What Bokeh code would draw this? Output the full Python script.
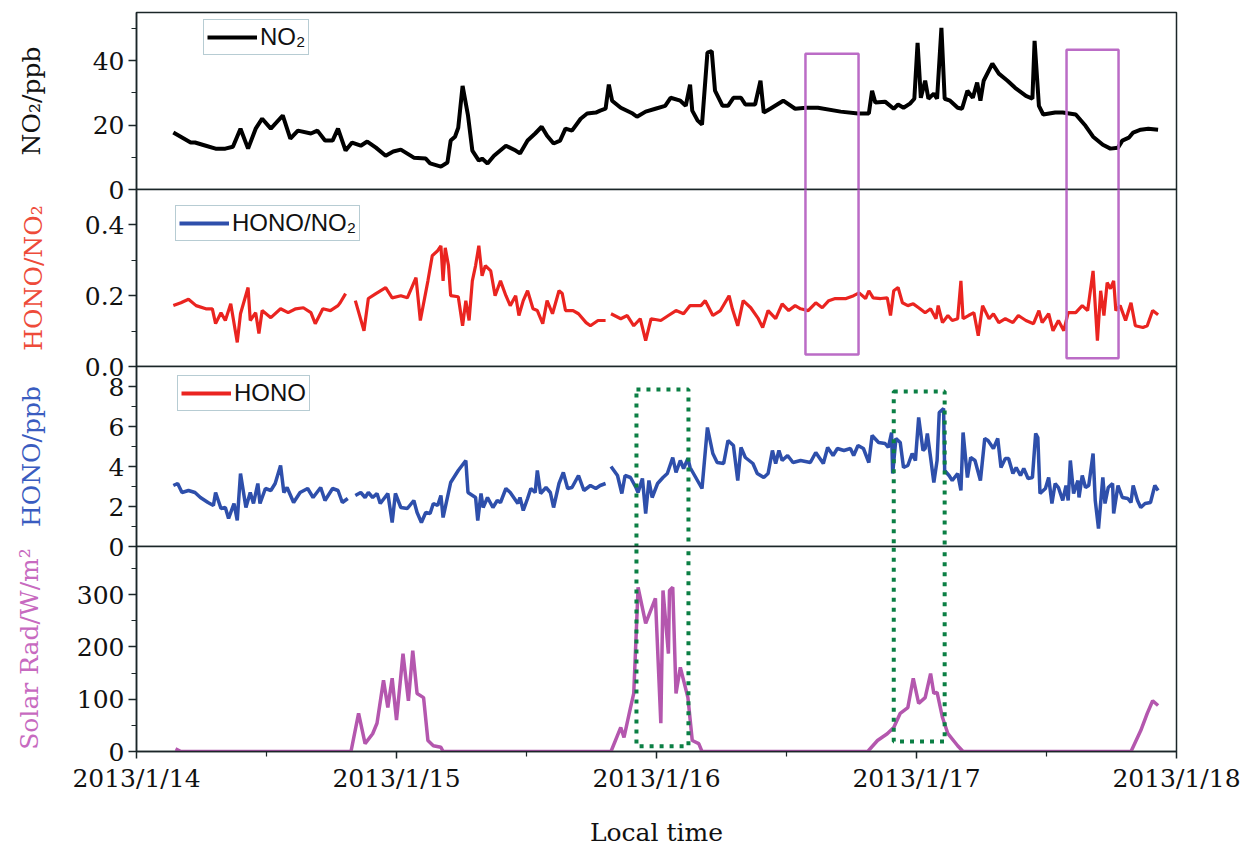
from bokeh.plotting import figure
from bokeh.layouts import column
from bokeh.models import (Range1d, FixedTicker, SingleIntervalTicker, NumeralTickFormatter,
                          Legend, LegendItem)
from bokeh.embed import file_html
from bokeh.resources import INLINE

NaN = float("nan")

# ---------------------------------------------------------------------------
# Time axis: hours since 2013/1/14 00:00 local time
# ---------------------------------------------------------------------------
day_ticks = [0, 24, 48, 72, 96]
day_labels = ["2013/1/14", "2013/1/15", "2013/1/16", "2013/1/17", "2013/1/18"]
half_day_ticks = [12, 36, 60, 84]

# NO2 (ppb)
no2_hours = [
    3.4, 5.0, 5.4, 6.4, 7.3, 8.2, 8.9, 9.6, 10.3, 11.0,
    11.6, 12.4, 13.5, 14.2, 14.9, 16.1, 16.7, 17.4, 18.1, 18.6,
    19.3, 19.9, 20.7, 21.3, 22.1, 23.0, 23.7, 24.4, 25.6, 26.7,
    27.1, 28.1, 28.7, 29.0, 29.4, 29.7, 30.1, 30.6, 31.0, 31.6,
    31.9, 32.4, 33.0, 34.1, 35.0, 35.4, 36.1, 36.8, 37.4, 37.9,
    38.5, 39.1, 39.6, 40.2, 41.0, 41.6, 42.4, 42.8, 43.3, 43.6,
    43.9, 44.7, 45.8, 46.2, 47.0, 47.9, 48.8, 49.3, 50.2, 50.7,
    51.1, 51.3, 51.8, 52.2, 52.7, 53.1, 53.4, 54.1, 54.6, 55.1,
    55.8, 56.2, 57.1, 57.6, 57.9, 58.5, 59.7, 60.8, 61.8, 62.9,
    65.0, 66.6, 67.6, 67.9, 68.2, 69.1, 69.9, 70.3, 70.8, 71.4,
    71.8, 72.1, 72.4, 72.8, 73.1, 73.6, 73.9, 74.3, 74.6, 75.1,
    75.8, 76.2, 76.7, 77.2, 77.6, 77.9, 78.2, 79.0, 79.6, 80.4,
    81.1, 82.1, 82.7, 82.9, 83.3, 83.7, 84.8, 85.5, 86.7, 87.6,
    88.3, 89.2, 89.9, 90.6, 91.0, 91.6, 92.0, 92.7, 93.4, 94.3,
]
no2_ppb = [
    17.7, 14.6, 14.6, 13.6, 12.7, 12.7, 13.3, 18.9, 12.7, 18.9,
    22.0, 18.9, 23.0, 15.8, 18.3, 17.4, 18.3, 15.2, 15.2, 18.9,
    12.1, 14.6, 13.6, 14.9, 13.0, 10.5, 11.8, 12.4, 9.9, 9.6,
    8.1, 7.1, 8.4, 15.2, 16.4, 19.2, 32.2, 23.0, 12.1, 9.0,
    9.6, 8.1, 10.5, 13.6, 12.1, 11.2, 15.2, 17.4, 19.5, 16.7,
    14.3, 15.2, 18.9, 18.3, 22.0, 23.6, 23.9, 24.5, 25.1, 32.6,
    27.6, 25.4, 23.6, 22.6, 24.2, 25.1, 26.0, 28.5, 27.6, 26.0,
    32.6, 24.5, 21.4, 20.2, 42.5, 43.0, 30.7, 26.0, 26.0, 28.5,
    28.5, 26.4, 26.4, 33.8, 23.9, 25.1, 27.6, 25.1, 25.4, 25.4,
    24.2, 23.6, 23.6, 30.7, 27.0, 27.3, 25.1, 26.4, 25.4, 26.7,
    28.2, 45.6, 28.5, 33.8, 28.2, 29.8, 28.2, 50.2, 28.2, 27.6,
    25.4, 25.1, 30.7, 28.5, 33.2, 27.6, 33.8, 39.1, 36.0, 33.8,
    31.6, 29.1, 28.2, 46.2, 26.0, 23.3, 23.9, 23.9, 23.3, 19.8,
    16.4, 13.9, 12.7, 13.0, 15.2, 16.1, 17.7, 18.6, 18.9, 18.6,
]

# HONO/NO2 ratio (NaN marks missing data)
ratio_hours = [
    3.4, 4.1, 4.8, 5.5, 6.4, 7.0, 7.3, 7.8, 8.2, 8.7,
    9.3, 9.6, 10.3, 10.5, 11.0, 11.3, 11.6, 12.4, 13.3, 14.0,
    14.7, 15.4, 16.1, 16.5, 17.2, 17.9, 18.6, 18.8, 19.3, 19.7,
    20.2, 21.0, 21.4, 22.1, 23.0, 23.6, 24.4, 25.0, 25.8, 26.2,
    26.9, 27.3, 27.8, 28.1, 28.3, 28.5, 28.8, 29.0, 29.7, 30.1,
    30.4, 30.7, 31.0, 31.3, 31.6, 31.9, 32.2, 32.7, 33.1, 33.6,
    34.1, 34.5, 35.0, 35.3, 35.7, 36.1, 36.6, 37.0, 37.5, 37.9,
    38.4, 39.0, 39.3, 39.6, 40.3, 40.8, 41.5, 41.9, 42.6, 43.3,
    43.5, 43.8, 44.7, 45.3, 45.9, 46.5, 47.0, 47.5, 48.4, 49.1,
    49.8, 50.5, 51.1, 52.1, 52.5, 53.2, 53.9, 54.7, 55.0, 55.5,
    56.0, 56.7, 57.4, 57.8, 58.3, 59.0, 59.6, 60.2, 60.8, 61.3,
    62.0, 62.7, 63.3, 63.9, 64.5, 65.5, 66.2, 66.7, 67.3, 67.6,
    68.0, 68.7, 69.3, 69.6, 69.9, 70.3, 70.7, 71.2, 71.7, 72.2,
    72.8, 73.3, 73.8, 74.0, 74.4, 74.9, 75.3, 75.8, 76.1, 76.3,
    76.8, 77.3, 77.7, 78.1, 78.7, 79.1, 79.6, 80.2, 80.9, 81.4,
    82.1, 82.8, 83.3, 83.6, 84.2, 84.6, 85.1, 85.6, 86.0, 86.7,
    87.3, 87.8, 88.3, 88.7, 89.0, 89.3, 89.6, 89.9, 90.2, 90.4,
    90.8, 91.3, 91.8, 92.2, 92.9, 93.3, 93.8, 94.3,
]
hono_no2_ratio = [
    0.172, 0.180, 0.190, 0.172, 0.163, 0.163, 0.121, 0.152, 0.130, 0.177,
    0.068, 0.149, 0.223, 0.130, 0.152, 0.093, 0.158, 0.138, 0.163, 0.152,
    0.163, 0.166, 0.152, 0.121, 0.163, 0.158, 0.172, 0.180, 0.206, NaN,
    0.186, 0.101, 0.192, 0.206, 0.223, 0.194, 0.200, 0.194, 0.251, 0.130,
    0.242, 0.313, 0.327, 0.341, 0.242, 0.335, 0.285, 0.200, 0.197, 0.115,
    0.186, 0.130, 0.242, 0.285, 0.341, 0.256, 0.285, 0.270, 0.200, 0.242,
    0.200, 0.172, 0.200, 0.144, 0.186, 0.214, 0.163, 0.158, 0.121, 0.186,
    0.149, 0.214, 0.206, 0.158, 0.158, 0.149, 0.124, 0.115, 0.130, 0.130,
    NaN, 0.149, 0.135, 0.144, 0.115, 0.135, 0.073, 0.135, 0.130, 0.144,
    0.158, 0.149, 0.172, 0.172, 0.186, 0.144, 0.158, 0.200, 0.163, 0.115,
    0.186, 0.166, 0.135, 0.110, 0.158, 0.135, 0.177, 0.158, 0.172, 0.163,
    0.158, 0.180, 0.166, 0.186, 0.192, 0.192, 0.200, 0.208, 0.192, 0.214,
    0.194, 0.192, 0.194, 0.144, 0.214, 0.223, 0.180, 0.172, 0.177, 0.166,
    0.152, 0.163, 0.135, 0.172, 0.124, 0.144, 0.130, 0.135, 0.242, 0.135,
    0.144, 0.152, 0.087, 0.172, 0.135, 0.149, 0.124, 0.135, 0.124, 0.144,
    0.130, 0.121, 0.158, 0.124, 0.149, 0.101, 0.130, 0.101, 0.152, 0.152,
    0.172, 0.158, 0.270, 0.073, 0.214, 0.144, 0.237, 0.220, 0.242, 0.158,
    0.172, 0.130, 0.180, 0.115, 0.110, 0.115, 0.158, 0.146,
]

# HONO (ppb)
hono_hours = [
    3.4, 3.8, 4.2, 4.8, 5.4, 5.9, 6.6, 7.1, 7.3, 7.8,
    8.2, 8.5, 9.0, 9.3, 9.6, 10.1, 10.5, 10.8, 11.2, 11.4,
    11.9, 12.4, 12.8, 13.3, 13.6, 13.9, 14.5, 15.1, 15.8, 16.3,
    17.0, 17.4, 18.1, 18.6, 19.0, 19.5, 19.8, 20.2, 20.7, 21.1,
    21.4, 21.8, 22.2, 22.5, 23.2, 23.6, 23.9, 24.4, 25.0, 25.6,
    25.9, 26.3, 26.7, 27.1, 27.4, 27.8, 28.1, 28.3, 29.0, 29.7,
    30.4, 30.6, 31.3, 31.5, 31.8, 32.0, 32.4, 32.9, 33.3, 33.6,
    34.1, 34.5, 35.2, 35.4, 35.7, 36.1, 36.4, 36.8, 37.0, 37.3,
    37.8, 38.2, 38.5, 39.0, 39.4, 39.8, 40.2, 40.8, 41.3, 41.9,
    42.4, 42.8, 43.3, 43.5, 43.8, 44.4, 44.8, 45.1, 45.6, 46.1,
    46.3, 46.7, 47.0, 47.3, 47.6, 48.1, 48.6, 49.0, 49.5, 49.8,
    50.2, 50.5, 50.9, 51.1, 52.2, 52.7, 53.2, 53.6, 54.2, 54.6,
    55.1, 55.5, 55.8, 56.2, 56.9, 57.3, 57.9, 58.3, 58.7, 59.0,
    59.3, 59.6, 60.1, 60.6, 61.3, 62.2, 62.7, 63.4, 63.8, 64.3,
    64.7, 65.3, 65.9, 66.2, 66.6, 67.1, 67.6, 67.9, 68.5, 69.1,
    69.4, 69.7, 69.8, 70.1, 70.5, 70.8, 71.2, 71.6, 71.9, 72.2,
    72.6, 72.8, 73.0, 73.3, 73.6, 73.9, 74.1, 74.5, 74.6, 75.0,
    75.3, 75.8, 76.1, 76.3, 76.7, 77.0, 77.4, 77.9, 78.3, 78.6,
    79.1, 79.5, 79.8, 80.2, 80.5, 80.9, 81.2, 81.6, 81.9, 82.3,
    82.7, 83.0, 83.2, 83.4, 83.9, 84.2, 84.5, 84.8, 85.1, 85.5,
    85.8, 86.0, 86.2, 86.5, 86.9, 87.0, 87.3, 87.6, 87.9, 88.3,
    88.5, 88.8, 89.2, 89.4, 89.7, 90.1, 90.2, 90.6, 91.0, 91.5,
    91.8, 92.0, 92.4, 92.7, 93.1, 93.6, 94.0, 94.3,
]
hono_ppb = [
    3.05, 3.15, 2.70, 2.80, 2.70, 2.45, 2.20, 2.05, 2.70, 1.90,
    1.95, 1.40, 2.15, 1.30, 3.65, 1.95, 2.70, 2.15, 3.15, 2.15,
    2.90, 2.80, 3.15, 4.05, 2.70, 2.95, 2.20, 2.70, 2.90, 2.45,
    2.95, 2.30, 2.90, 2.80, 2.20, 2.40, NaN, 2.55, 2.70, 2.45,
    2.70, 2.45, 2.65, 2.15, 2.65, 1.20, 2.65, 1.95, 1.90, 2.30,
    1.70, 1.20, 1.70, 1.65, 2.15, 2.05, 2.55, 1.45, 3.20, 3.80,
    4.30, 2.70, 2.45, 1.30, 2.65, 1.95, 2.45, 1.95, 2.30, 2.20,
    2.90, 2.70, 2.15, 2.45, 1.80, 2.40, 2.90, 2.70, 3.80, 2.65,
    2.95, 2.70, 1.95, 3.15, 3.70, 2.90, 2.95, 3.55, 2.80, 3.05,
    2.90, 3.05, 3.15, NaN, 4.00, 3.55, 2.65, 3.55, 3.45, 2.95,
    2.70, 3.40, 1.65, 3.30, 2.45, 3.15, 3.45, 3.65, 4.45, 3.70,
    4.30, 3.90, 4.40, 3.95, 2.90, 5.95, 4.65, 4.20, 4.15, 5.30,
    5.05, 3.30, 4.95, 4.45, 4.15, 3.65, 3.45, 3.65, 4.80, 4.15,
    4.80, 4.30, 4.55, 4.20, 4.30, 4.20, 4.70, 4.15, 4.95, 4.55,
    4.90, 4.80, 4.90, 4.55, 5.05, 4.90, 4.20, 5.55, 5.20, 5.15,
    4.95, 5.70, 3.65, 5.40, 5.20, 3.95, 4.05, 4.65, 4.30, 6.45,
    4.80, 4.90, 5.65, 4.45, 3.20, 4.30, 6.70, 6.90, 3.80, 3.55,
    3.30, 3.65, 2.80, 5.70, 3.45, 4.45, 4.30, 3.30, 5.40, 5.30,
    4.90, 5.40, 3.95, 4.40, 4.40, 3.65, 3.95, 3.55, 3.90, 3.40,
    3.45, 5.65, 5.45, 2.65, 2.90, 3.45, 2.15, 3.15, 2.95, 2.30,
    3.05, 2.30, 4.30, 2.65, 3.30, 2.45, 3.55, 2.95, 3.05, 4.65,
    2.30, 0.90, 3.45, 2.15, 2.95, 3.15, 1.65, 3.05, 2.45, 2.40,
    2.20, 3.05, 2.30, 1.95, 2.15, 2.20, 3.05, 2.80,
]

# Solar radiation (W/m2)
rad_hours = [
    3.6, 4.1, 19.8, 20.5, 21.1, 21.8, 22.2, 22.8, 23.2, 23.6,
    24.0, 24.6, 25.1, 25.5, 25.9, 26.5, 26.9, 27.4, 28.1, 28.3,
    43.8, 44.7, 45.0, 45.6, 45.9, 46.3, 47.0, 47.9, 48.4, 48.6,
    49.1, 49.2, 49.5, 49.8, 50.2, 50.9, 51.3, 51.9, 52.2, 67.5,
    68.4, 69.3, 69.9, 70.5, 71.2, 71.7, 72.2, 72.8, 73.3, 73.6,
    73.9, 74.4, 74.9, 75.8, 76.3, 91.8, 92.7, 93.3, 93.8, 94.3,
]
solar_rad = [
    5, 0, 0, 73, 15, 34, 54, 136, 84, 140,
    60, 187, 97, 193, 111, 103, 21, 11, 8, 0,
    0, 46, 27, 84, 111, 314, 245, 293, 54, 308,
    187, 308, 314, 111, 161, 103, 21, 15, 0, 0,
    21, 34, 46, 73, 84, 140, 92, 103, 149, 111,
    113, 65, 34, 11, 0, 0, 40, 73, 97, 88,
]

# Highlighted periods (hours) and the value at the closed edge of each box
no2_box_start = [61.75, 85.85]
no2_box_end = [66.65, 90.65]
no2_box_top = [42.2, 43.4]
ratio_box_bottom = [0.034, 0.023]
rad_box_start = [46.15, 69.9]
rad_box_end = [50.95, 74.6]
hono_box_top = [7.85, 7.75]
rad_box_bottom = [10, 19]

# ---------------------------------------------------------------------------
# Styling
# ---------------------------------------------------------------------------
SERIF = "DejaVu Serif"
SANS = "Liberation Sans"
AXIS_COLOR = "#1b2628"
BOX_PINK = "#bb6cc6"
BOX_GREEN = "#0b7f44"
C_NO2 = "#000000"
C_RATIO = "#ea2420"
C_HONO = "#2e4fab"
C_RAD = "#b457ae"

FRAME_W = 1040
LEFT, RIGHT = 136, 75
EDGE = 16  # room for the tick labels sitting on a shared panel edge

x_range = Range1d(0, 96)


def make_panel(frame_h, y_max, label, label_color, interval, standoff,
               first=False, last=False, fmt=None):
    p = figure(frame_width=FRAME_W, frame_height=frame_h,
               x_range=x_range, y_range=Range1d(0, y_max),
               output_backend="svg", toolbar_location=None, tools="",
               x_axis_location="below" if last else None,
               min_border_left=LEFT, min_border_right=RIGHT,
               min_border_top=12 if first else EDGE,
               min_border_bottom=88 if last else EDGE,
               border_fill_color=None,
               outline_line_color=AXIS_COLOR, outline_line_width=1.5,
               margin=(0 if first else -2 * EDGE, 0, 0, 0))
    p.grid.visible = False
    ax = p.yaxis[0]
    ax.ticker = SingleIntervalTicker(interval=interval, num_minor_ticks=2)
    if fmt:
        ax.formatter = NumeralTickFormatter(format=fmt)
    ax.axis_line_color = AXIS_COLOR
    ax.axis_line_width = 1.5
    ax.major_tick_line_color = AXIS_COLOR
    ax.minor_tick_line_color = AXIS_COLOR
    ax.major_tick_line_width = 1.5
    ax.minor_tick_line_width = 1.2
    ax.major_tick_in = 0
    ax.major_tick_out = 8
    ax.minor_tick_in = 0
    ax.minor_tick_out = 5
    ax.major_label_standoff = 4
    ax.major_label_text_font = SERIF
    ax.major_label_text_font_size = "25px"
    ax.major_label_text_color = "#111111"
    ax.axis_label = label
    ax.axis_label_text_font = SERIF
    ax.axis_label_text_font_style = "normal"
    ax.axis_label_text_font_size = "25px"
    ax.axis_label_text_color = label_color
    ax.axis_label_standoff = standoff
    return p


def add_legend(p, label, color, loc):
    # one NaN point: gives the legend a line sample without drawing anything
    proxy = p.line(x=[NaN], y=[NaN], line_color=color, line_width=4)
    legend = Legend(items=[LegendItem(label=label, renderers=[proxy])],
                    location=loc, orientation="vertical",
                    label_text_font=SANS, label_text_font_size="24px",
                    label_text_color="#111111",
                    border_line_color="#6f9aa8", border_line_width=1,
                    background_fill_color="white", background_fill_alpha=1,
                    glyph_width=50, glyph_height=22, label_height=22,
                    label_standoff=3, padding=3, margin=0, spacing=0)
    p.add_layout(legend)


# Panel 1: NO2
p1 = make_panel(177, 55, "NO₂/ppb", "#111111", 20, 44, first=True)
p1.line(no2_hours, no2_ppb, line_color=C_NO2, line_width=4)
p1.quad(left=no2_box_start, right=no2_box_end, top=no2_box_top, bottom=-10,
        fill_color=None, line_color=BOX_PINK, line_width=2.5)
add_legend(p1, "NO₂", C_NO2, (67, 134))

# Panel 2: HONO/NO2
p2 = make_panel(177, 0.5, "HONO/NO₂", "#ee4b3a", 0.2, 34, fmt="0.0")
p2.line(ratio_hours, hono_no2_ratio, line_color=C_RATIO, line_width=3.2)
p2.quad(left=no2_box_start, right=no2_box_end, top=1.0, bottom=ratio_box_bottom,
        fill_color=None, line_color=BOX_PINK, line_width=2.5)
add_legend(p2, "HONO/NO₂", C_HONO, (39, 125))

# Panel 3: HONO
p3 = make_panel(180, 9, "HONO/ppb", "#3a5cc0", 2, 60)
p3.line(hono_hours, hono_ppb, line_color=C_HONO, line_width=3.5)
p3.quad(left=rad_box_start, right=rad_box_end, top=hono_box_top, bottom=-2,
        fill_color=None, line_color=BOX_GREEN, line_width=4,
        line_dash="4 6", line_cap="butt")
add_legend(p3, "HONO", C_RATIO, (41, 135))

# Panel 4: solar radiation, carries the time axis
p4 = make_panel(205, 392, "Solar Rad/W/m²", "#c76ac0", 100, 30, last=True)
p4.line(rad_hours, solar_rad, line_color=C_RAD, line_width=3.5)
p4.quad(left=rad_box_start, right=rad_box_end, top=800, bottom=rad_box_bottom,
        fill_color=None, line_color=BOX_GREEN, line_width=4,
        line_dash="4 6", line_cap="butt")

xa = p4.xaxis[0]
xa.ticker = FixedTicker(ticks=day_ticks, minor_ticks=half_day_ticks)
xa.major_label_overrides = dict(zip(day_ticks, day_labels))
xa.axis_line_color = AXIS_COLOR
xa.axis_line_width = 1.5
xa.major_tick_line_color = AXIS_COLOR
xa.minor_tick_line_color = AXIS_COLOR
xa.major_tick_line_width = 1.5
xa.minor_tick_line_width = 1.2
xa.major_tick_in = 0
xa.major_tick_out = 7
xa.minor_tick_in = 0
xa.minor_tick_out = 5
xa.major_label_standoff = 5
xa.major_label_text_font = SERIF
xa.major_label_text_font_size = "25px"
xa.major_label_text_color = "#111111"
xa.axis_label = "Local time"
xa.axis_label_text_font = SERIF
xa.axis_label_text_font_style = "normal"
xa.axis_label_text_font_size = "25px"
xa.axis_label_text_color = "#111111"
xa.axis_label_standoff = 22

layout = column(p1, p2, p3, p4, spacing=0)

with open("out.html", "w") as f:
    f.write(file_html(layout, INLINE, title="HONO, NO2 and solar radiation"))
